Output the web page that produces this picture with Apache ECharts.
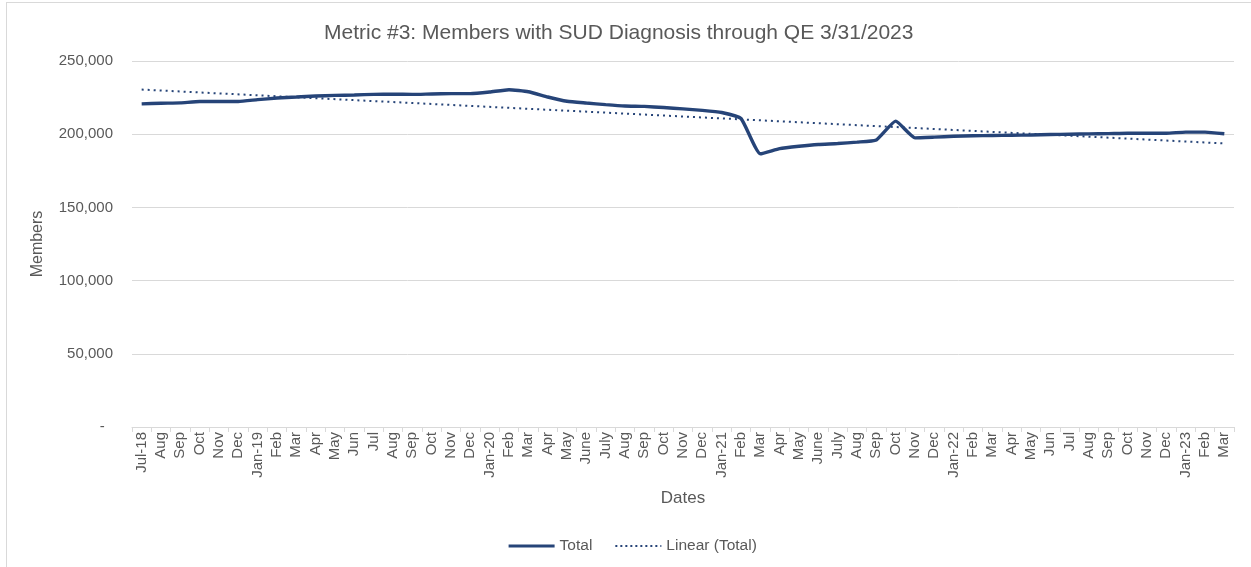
<!DOCTYPE html>
<html>
<head>
<meta charset="utf-8">
<script src="https://cdn.jsdelivr.net/npm/echarts@6/dist/echarts.min.js"></script>
<style>
html,body{margin:0;padding:0;background:#fff;}
#frame{position:absolute;left:6px;top:2px;width:1260px;height:600px;border:1px solid #d9d9d9;box-sizing:border-box;}
#chart{position:absolute;left:0;top:0;width:1251px;height:567px;}
</style>
</head>
<body>
<div id="frame"></div>
<div id="chart"></div>
<script>
const categories = ['Jul-18','Aug','Sep','Oct','Nov','Dec',
  'Jan-19','Feb','Mar','Apr','May','Jun','Jul','Aug','Sep','Oct','Nov','Dec',
  'Jan-20','Feb','Mar','Apr','May','June','July','Aug','Sep','Oct','Nov','Dec',
  'Jan-21','Feb','Mar','Apr','May','June','July','Aug','Sep','Oct','Nov','Dec',
  'Jan-22','Feb','Mar','Apr','May','Jun','Jul','Aug','Sep','Oct','Nov','Dec',
  'Jan-23','Feb','Mar'];

const totalValues = [220700,221150,221400,222300,222300,222300,
  223600,224700,225400,226100,226500,226800,227200,227400,227200,227500,227700,227700,
  228800,230400,229000,225400,222500,221300,220200,219300,219000,218200,217300,216300,
  214800,210700,186600,190200,191800,193000,193600,194600,196100,208900,197500,198000,
  198600,198900,199100,199300,199500,199800,200000,200200,200400,200700,200700,200700,
  201400,201400,200300];

// Linear trendline: value at first and last category
const trendStart = 230500;
const trendEnd = 193700;

const yTicks = [0, 50000, 100000, 150000, 200000, 250000];

const seriesNames = ['Total', 'Linear (Total)'];

const chart = echarts.init(document.getElementById('chart'), null, {renderer:'canvas'});
const txt = '#595959';
const lineColor = '#264478';
const font = 'Liberation Sans, Arial, sans-serif';

chart.setOption({
  animation: false,
  backgroundColor: 'transparent',
  textStyle: {fontFamily: font},
  title: {
    text: 'Metric #3: Members with SUD Diagnosis through QE 3/31/2023',
    left: 319, top: 18,
    textStyle: {color: txt, fontSize: 21, fontWeight: 'normal', fontFamily: font}
  },
  legend: {
    bottom: 8, left: 502,
    itemWidth: 46, itemHeight: 10, itemGap: 22,
    itemStyle: {opacity: 0},
    textStyle: {color: txt, fontSize: 15.5, fontFamily: font},
    data: [
      {name: seriesNames[0], lineStyle: {width: 3.2, color: lineColor}},
      {name: seriesNames[1], lineStyle: {width: 2, color: lineColor, type: [2, 3]}}
    ]
  },
  grid: {left: 132, right: 17, top: 61, bottom: 140, containLabel: false},
  xAxis: {
    type: 'category',
    data: categories,
    boundaryGap: true,
    name: 'Dates',
    nameLocation: 'middle',
    nameGap: 63,
    nameTextStyle: {color: txt, fontSize: 17, fontFamily: font},
    axisLine: {lineStyle: {color: '#d9d9d9', width: 1}},
    axisTick: {show: true, interval: 0, length: 5, lineStyle: {color: '#d9d9d9'}},
    axisLabel: {interval: 0, rotate: 90, margin: 5, color: txt, fontSize: 15, fontFamily: font},
    splitLine: {show: false}
  },
  yAxis: {
    type: 'value',
    min: yTicks[0], max: yTicks[yTicks.length - 1], interval: 50000,
    name: 'Members',
    nameLocation: 'middle',
    nameGap: 86,
    nameRotate: 90,
    nameTextStyle: {color: txt, fontSize: 16, fontFamily: font},
    axisLine: {show: false},
    axisTick: {show: false},
    axisLabel: {
      margin: 19, color: txt, fontSize: 15, fontFamily: font,
      formatter: v => v === 0 ? '-  ' : v.toLocaleString('en-US')
    },
    splitLine: {lineStyle: {color: '#d9d9d9', width: 1}}
  },
  series: [
    {
      name: seriesNames[0],
      type: 'line',
      data: totalValues,
      symbol: 'none',
      smooth: 0.15,
      lineStyle: {color: lineColor, width: 3.4},
      itemStyle: {color: lineColor},
      z: 3
    },
    {
      name: seriesNames[1],
      type: 'line',
      data: [[0, trendStart], [categories.length - 1, trendEnd]],
      symbol: 'none',
      lineStyle: {color: lineColor, width: 2, type: [2, 4]},
      itemStyle: {color: lineColor},
      z: 2
    }
  ]
});
</script>
</body>
</html>
